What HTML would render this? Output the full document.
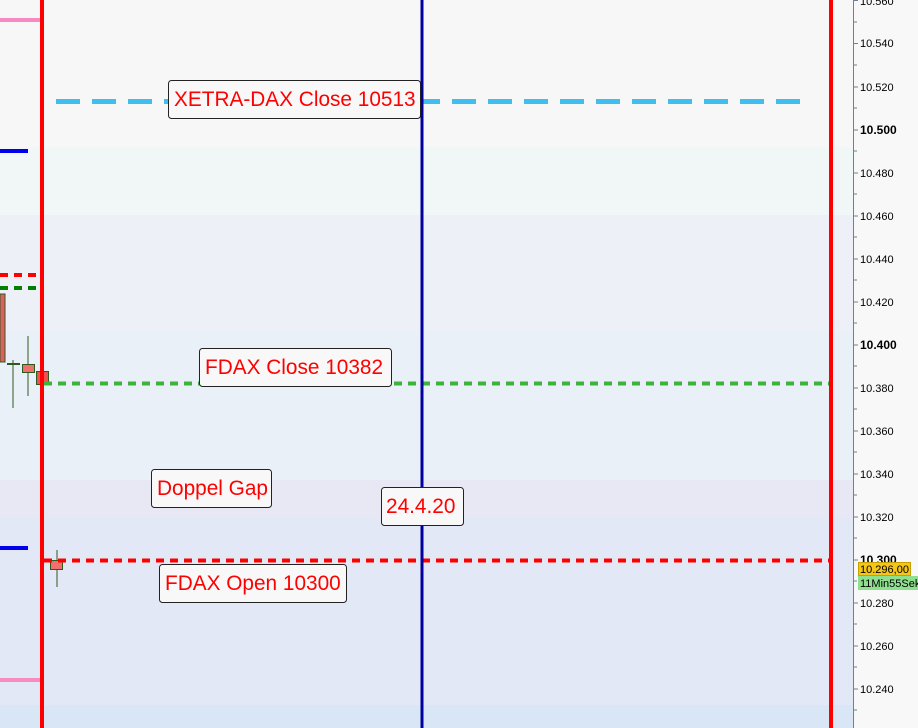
<!DOCTYPE html>
<html><head><meta charset="utf-8"><style>
html,body{margin:0;padding:0;width:918px;height:728px;overflow:hidden;background:#f8f8f8}
svg{display:block}
.l{font-family:"Liberation Sans",sans-serif;font-size:20.8px;fill:#ff0000}
.a{font-family:"Liberation Sans",sans-serif;font-size:11px;fill:#000}
</style></head><body>
<svg width="918" height="728" viewBox="0 0 918 728" xmlns="http://www.w3.org/2000/svg">
<rect x="0" y="0" width="853" height="147" fill="#f7f7f7"/>
<rect x="0" y="147" width="853" height="68" fill="#f0f7f6"/>
<rect x="0" y="215" width="853" height="116" fill="#eef0f7"/>
<rect x="0" y="331" width="853" height="149" fill="#eaf0f7"/>
<rect x="0" y="480" width="853" height="38" fill="#e8e8f5"/>
<rect x="0" y="518" width="853" height="187" fill="#e2e8f5"/>
<rect x="0" y="705" width="853" height="23" fill="#d8e6f5"/>
<rect x="853" y="0" width="65" height="728" fill="#f8f8f8"/>
<rect x="0" y="18" width="40" height="4" fill="#f78ac0"/>
<rect x="0" y="678" width="40" height="4" fill="#f78ac0"/>
<rect x="0" y="149" width="28" height="4" fill="#0000ee"/>
<rect x="0" y="546" width="28" height="4" fill="#0000ee"/>
<line x1="0" y1="275" x2="40" y2="275" stroke="#ff0000" stroke-width="4" stroke-dasharray="8,6"/>
<line x1="0" y1="288" x2="42" y2="288" stroke="#008000" stroke-width="4" stroke-dasharray="8,6"/>
<rect x="0" y="294" width="5" height="68" fill="#e06060" stroke="#2f5a1f" stroke-width="1"/>
<line x1="13" y1="360" x2="13" y2="408" stroke="#2f5a1f"/>
<line x1="7" y1="364" x2="20" y2="364" stroke="#2f5a1f" stroke-width="2"/>
<line x1="28" y1="336" x2="28" y2="396" stroke="#2f5a1f"/>
<rect x="22.5" y="364.5" width="12" height="8" fill="#f07070" stroke="#2f5a1f"/>
<rect x="36.5" y="371.5" width="12" height="13" fill="#f05050" stroke="#2f5a1f"/>
<line x1="57" y1="550" x2="57" y2="587" stroke="#2f5a1f"/>
<rect x="50.5" y="560.5" width="12" height="9" fill="#f07070" stroke="#2f5a1f"/>
<line x1="56" y1="101.5" x2="800" y2="101.5" stroke="#3fbff0" stroke-width="5" stroke-dasharray="24,12"/>
<line x1="44" y1="383.5" x2="831" y2="383.5" stroke="#3cb43c" stroke-width="4" stroke-dasharray="8,6"/>
<line x1="44" y1="560.5" x2="831" y2="560.5" stroke="#ff0000" stroke-width="4" stroke-dasharray="8,6"/>
<rect x="40" y="0" width="4" height="728" fill="#ff0000"/>
<rect x="829" y="0" width="4" height="728" fill="#ff0000"/>
<rect x="420.5" y="0" width="3" height="728" fill="#0000a0"/>
<rect x="168.5" y="80.5" width="252" height="38" rx="3" fill="#f8f8f8" stroke="#222"/>
<text class="l" x="174" y="106">XETRA-DAX Close 10513</text>
<rect x="199.5" y="348.5" width="192" height="38" rx="3" fill="#f8f8f8" stroke="#222"/>
<text class="l" x="205" y="374">FDAX Close 10382</text>
<rect x="151.5" y="469.5" width="120" height="38" rx="3" fill="#f8f8f8" stroke="#222"/>
<text class="l" x="157" y="495">Doppel Gap</text>
<rect x="381.5" y="487.5" width="82" height="38" rx="3" fill="#f8f8f8" stroke="#222"/>
<text class="l" x="386" y="513">24.4.20</text>
<rect x="159.5" y="564.5" width="187" height="38" rx="3" fill="#f8f8f8" stroke="#222"/>
<text class="l" x="165" y="590">FDAX Open 10300</text>
<line x1="853.5" y1="0" x2="853.5" y2="728" stroke="#708090"/>
<g stroke="#708090">
<line x1="853" y1="0.5" x2="858" y2="0.5"/>
<line x1="853" y1="22" x2="857" y2="22"/>
<line x1="853" y1="43.5" x2="858" y2="43.5"/><line x1="853" y1="65" x2="857" y2="65"/>
<line x1="853" y1="87" x2="858" y2="87"/><line x1="853" y1="108" x2="857" y2="108"/>
<line x1="853" y1="130" x2="858" y2="130"/><line x1="853" y1="151" x2="857" y2="151"/>
<line x1="853" y1="173" x2="858" y2="173"/><line x1="853" y1="194" x2="857" y2="194"/>
<line x1="853" y1="216" x2="858" y2="216"/><line x1="853" y1="237" x2="857" y2="237"/>
<line x1="853" y1="259" x2="858" y2="259"/><line x1="853" y1="280" x2="857" y2="280"/>
<line x1="853" y1="302" x2="858" y2="302"/><line x1="853" y1="323" x2="857" y2="323"/>
<line x1="853" y1="345" x2="858" y2="345"/><line x1="853" y1="366" x2="857" y2="366"/>
<line x1="853" y1="388" x2="858" y2="388"/><line x1="853" y1="409" x2="857" y2="409"/>
<line x1="853" y1="431" x2="858" y2="431"/><line x1="853" y1="452" x2="857" y2="452"/>
<line x1="853" y1="474" x2="858" y2="474"/><line x1="853" y1="495" x2="857" y2="495"/>
<line x1="853" y1="517" x2="858" y2="517"/><line x1="853" y1="538" x2="857" y2="538"/>
<line x1="853" y1="560" x2="858" y2="560"/><line x1="853" y1="581" x2="857" y2="581"/>
<line x1="853" y1="603" x2="858" y2="603"/><line x1="853" y1="624" x2="857" y2="624"/>
<line x1="853" y1="646" x2="858" y2="646"/><line x1="853" y1="667" x2="857" y2="667"/>
<line x1="853" y1="689" x2="858" y2="689"/><line x1="853" y1="710" x2="857" y2="710"/>
</g>
<g class="a">
<text x="860" y="5">10.560</text>
<text x="860" y="47">10.540</text>
<text x="860" y="91">10.520</text>
<text x="860" y="134" font-weight="bold" font-size="12">10.500</text>
<text x="860" y="177">10.480</text>
<text x="860" y="220">10.460</text>
<text x="860" y="263">10.440</text>
<text x="860" y="306">10.420</text>
<text x="860" y="349" font-weight="bold" font-size="12">10.400</text>
<text x="860" y="392">10.380</text>
<text x="860" y="435">10.360</text>
<text x="860" y="478">10.340</text>
<text x="860" y="521">10.320</text>
<text x="860" y="564" font-weight="bold" font-size="12">10.300</text>
<text x="860" y="607">10.280</text>
<text x="860" y="650">10.260</text>
<text x="860" y="693">10.240</text>
</g>
<rect x="858.5" y="562.5" width="52" height="13" fill="#f5c518" stroke="#c8a000"/>
<text class="a" x="860" y="573">10.296,00</text>
<rect x="858" y="576" width="60" height="14" fill="#8ee08e"/>
<text class="a" x="860" y="587">11Min55Sek</text>
</svg>
</body></html>
